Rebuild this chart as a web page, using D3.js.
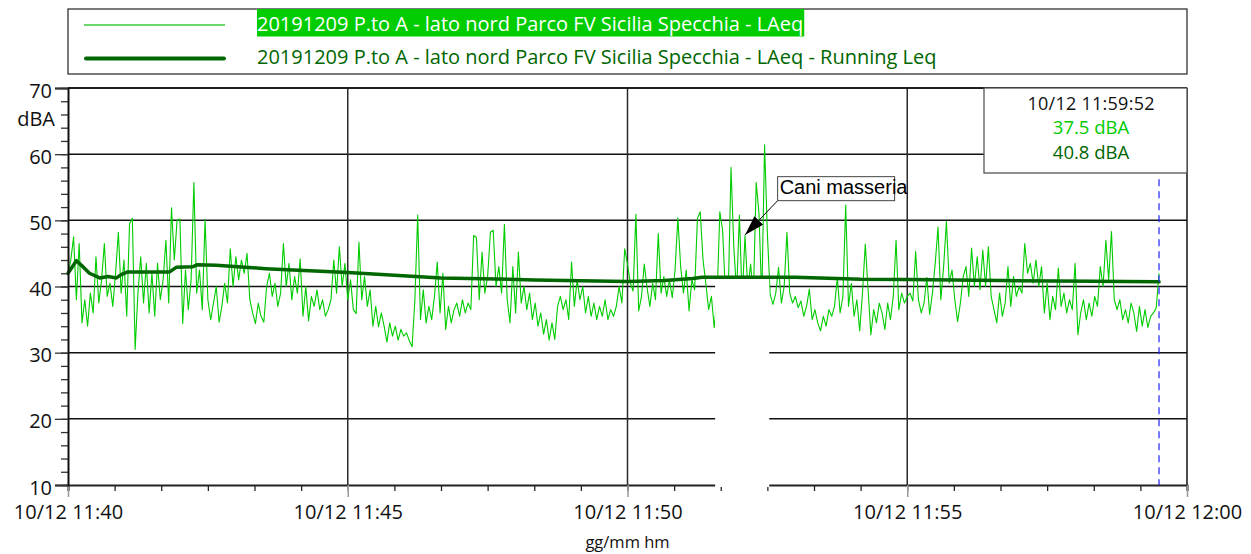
<!DOCTYPE html>
<html>
<head>
<meta charset="utf-8">
<script src="https://cdn.jsdelivr.net/npm/d3@7"></script>
<style>
  body { margin: 0; background: #fff; }
  text { font-family: "Open Sans", sans-serif; }
</style>
</head>
<body>
<div id="chart"></div>
<script>
// Data
var startTime = new Date(2019, 11, 10, 11, 40, 0);
var endTime = new Date(2019, 11, 10, 12, 0, 0);
var sampleStep = 3; // seconds between LAeq samples

var laeq = [
  42, 44, 47.5, 38, 46.5, 34.5, 38, 34, 39, 36,
  44.5, 37.5, 41, 46.5, 38.5, 40.5, 37, 42, 48.2, 39,
  44, 35.5, 49.5, 50.3, 30.5, 39, 44.5, 37.5, 43.5, 36,
  42, 35.5, 43.5, 38, 41, 47, 37.5, 51.9, 44, 50,
  50.2, 34.4, 42.5, 36.5, 41, 55.7, 39, 42.5, 36.5, 50.1,
  38, 35, 37.5, 40, 34.6, 37, 40.5, 37.5, 45.7, 40,
  44.5, 41, 44, 42, 45, 38, 36, 34.4, 37.5, 35.5,
  34.6, 40, 42, 38.5, 40.5, 37, 39, 46.5, 40, 43.5,
  38, 41.5, 39, 44.2, 35.5, 40, 34.8, 38.5, 37, 39.5,
  36.5, 38, 35.5, 36.5, 38, 44, 39, 46, 40, 43.5,
  38, 41, 36.5, 35.9, 46.7, 38, 41.5, 37, 39.5, 34,
  37, 33.9, 36, 34, 31.6, 34.5, 32.5, 34, 31.9, 33.5,
  32.5, 33, 31.8, 30.9, 38, 50.8, 35, 39.5, 34.5, 37,
  35, 38.5, 43.7, 36, 42, 33.5, 37, 34.5, 36.5, 37.5,
  35.5, 38, 36, 37.5, 36.5, 47.7, 47.4, 38, 45.2, 39,
  41.5, 48.2, 48.5, 40, 43, 39, 49.4, 38, 34.5, 43,
  36, 45.2, 37.5, 40, 36.5, 39, 35, 37.5, 34, 36,
  32.8, 35, 31.9, 34.5, 32, 37, 38.5, 36.5, 38, 35,
  43.7, 37, 41, 38, 40, 36, 38.5, 35.5, 37.5, 35,
  37, 35.5, 38, 35, 36.5, 35.5, 37, 40, 37.5, 45.7,
  43.4, 40.5, 39.3, 50.9, 36.3, 38.5, 43.4, 39.8, 37, 40.5,
  38, 48, 39, 41.5, 38.5, 41, 38.3, 42.5, 50.4, 43,
  39, 42.5, 36.3, 41, 39.5, 50.3, 51.3, 44, 40.5, 36.5,
  38.5, 33.8, 38, 51.3, 48.5, 39, 38.5, 58, 46, 39,
  50.8, 38, 47.7, 39.5, 43.4, 38.5, 55.7, 51, 38, 61.4,
  48, 38.8, 37.3, 39, 42.9, 37.5, 40, 48.2, 39, 37.5,
  38.5, 36.8, 37.8, 35.5, 37, 39.6, 35, 36.5, 34.5, 33.3,
  35.5, 34, 36.5, 35.5, 37, 41.4, 36, 38.5, 52.3, 37,
  40.5, 35.5, 38, 33.3, 39, 46.4, 39.5, 32.7, 36.5, 34.5,
  37.5, 36, 33.5, 37.5, 35, 38.5, 47, 36.5, 39, 37.5,
  38.5, 39, 37.8, 45.3, 38, 36, 37.5, 41.4, 35.8, 39,
  43.5, 49, 38, 43, 49.8, 40.5, 42.5, 38, 34.7, 37.5,
  41.5, 43, 38.5, 45.8, 40, 44.5, 39.5, 45.5, 40, 46,
  38.5, 36.5, 34.5, 39, 35.5, 37.5, 43, 37, 41.5, 38.5,
  40, 39, 46.5, 42, 43.5, 40.5, 44, 40, 43, 36,
  40.5, 35, 38.5, 36.5, 42.8, 37, 39, 36, 38, 36.5,
  43.5, 32.7, 36, 38, 35, 37.5, 35.5, 38.5, 37, 43,
  40, 47, 41, 48.3, 38, 36.5, 38, 35, 36.5, 34.5,
  37.5, 36, 33.2, 37, 34, 36.5, 33.8, 35.5, 36, 36.8,
  42
];

// running Leq, read at these seconds after 11:40
var leqSeconds = [0, 9, 16, 23, 34, 43, 52, 57, 64, 109, 116, 134, 139, 159, 212, 300,
  400, 500, 600, 640, 670, 680, 780, 850, 900, 1000, 1100, 1170];
var leqValues = [42.0, 43.9, 43.0, 42.0, 41.3, 41.5, 41.3, 41.8, 42.2, 42.2, 42.9, 43.0, 43.3, 43.2, 42.7, 42.1,
  41.3, 41.0, 40.75, 40.9, 41.2, 41.4, 41.4, 41.1, 41.05, 40.9, 40.8, 40.7];

var seriesNames = [
  "20191209 P.to A - lato nord Parco FV Sicilia Specchia - LAeq",
  "20191209 P.to A - lato nord Parco FV Sicilia Specchia - LAeq - Running Leq"
];
var yTicks = [10, 20, 30, 40, 50, 60, 70];
var yMinorTicks = d3.range(10, 71, 2);

// cursor readout
var cursorSeconds = 1170;
var cursorLabel = "10/12 11:59:52";
var cursorTexts = ["37.5 dBA", "40.8 dBA"];

// masked (excluded) interval
var maskSeconds = [694, 752];
var maskTop = 41.3;

// annotation
var noteText = "Cani masseria";
var notePoint = {s: 726, v: 47.8};
var noteBox = {s: 761, v: 56.6};

var colLaeq = "#00cc00", colLeq = "#006600";

// set dimensions and margins
var margin = {top: 88, right: 64, bottom: 69, left: 68 },
  width = 1251 - margin.left - margin.right,
  height = 554 - margin.top - margin.bottom;

var svg = d3.select("#chart")
  .append("svg")
    .attr("width", 1251)
    .attr("height", 554);

var g = svg.append("g")
  .attr("transform", "translate(" + margin.left + "," + margin.top + ")");

function atSec(s) { return new Date(startTime.getTime() + s * 1000); }

var x = d3.scaleTime()
  .domain([startTime, endTime])
  .range([0, width]);
var y = d3.scaleLinear()
  .domain([10, 70])
  .range([height, 0]);

// Legend
var legend = svg.append("g");
legend.append("rect")
  .attr("x", margin.left).attr("y", 9)
  .attr("width", width).attr("height", 65)
  .attr("fill", "none").attr("stroke", "#333").attr("stroke-width", 1.3);
legend.append("line")
  .attr("x1", 84).attr("x2", 225).attr("y1", 25).attr("y2", 25)
  .attr("stroke", "#3ccc3c").attr("stroke-width", 1.5);
legend.append("line")
  .attr("x1", 86).attr("x2", 224).attr("y1", 58.5).attr("y2", 58.5)
  .attr("stroke", colLeq).attr("stroke-width", 4).attr("stroke-linecap", "round");
var bg = legend.append("rect")
  .attr("x", 257).attr("y", 9).attr("height", 27.5)
  .attr("fill", colLaeq);
var t1 = legend.append("text")
  .attr("x", 257).attr("y", 31)
  .style("font-size", "20px")
  .attr("fill", "#fff")
  .text(seriesNames[0]);
bg.attr("width", t1.node().getComputedTextLength() + 1);
legend.append("text")
  .attr("x", 257).attr("y", 64)
  .style("font-size", "20px")
  .attr("fill", colLeq)
  .text(seriesNames[1]);

// Grid
g.selectAll(".hgrid")
  .data(yTicks.slice(1))
  .enter().append("line")
    .attr("x1", 0).attr("x2", width)
    .attr("y1", function(d) { return y(d); })
    .attr("y2", function(d) { return y(d); })
    .attr("stroke", "#111").attr("stroke-width", 1.5);
var vgrid = [atSec(300), atSec(600), atSec(900)];
g.selectAll(".vgrid")
  .data(vgrid)
  .enter().append("line")
    .attr("x1", function(d) { return x(d); })
    .attr("x2", function(d) { return x(d); })
    .attr("y1", 0).attr("y2", height)
    .attr("stroke", "#2a2a2a").attr("stroke-width", 1.5);
g.append("line")
  .attr("x1", width).attr("x2", width).attr("y1", 0).attr("y2", height)
  .attr("stroke", "#111").attr("stroke-width", 1.5);

// LAeq line
g.append("path")
  .datum(laeq)
  .attr("fill", "none")
  .attr("stroke", colLaeq)
  .attr("stroke-width", 1.1)
  .attr("stroke-linejoin", "round")
  .attr("d", d3.line()
    .x(function(d, i) { return x(atSec(i * sampleStep)); })
    .y(function(d) { return y(d); })
  );

// X axis (minor ticks every 50 s, labels every 5 min)
var xAxisG = g.append("g")
  .attr("transform", "translate(0," + height + ")");
xAxisG.call(d3.axisBottom(x)
    .tickValues(d3.range(0, 1201, 50).map(atSec))
    .tickSize(6).tickFormat(""))
  .call(function(a) {
    a.select(".domain").attr("stroke", "#222").attr("stroke-width", 2);
    a.selectAll(".tick line").attr("stroke", "#222").attr("stroke-width", 1.3);
  });
g.append("g")
  .attr("transform", "translate(0," + height + ")")
  .call(d3.axisBottom(x)
    .tickValues(d3.range(0, 1201, 300).map(atSec))
    .tickSize(12).tickPadding(8)
    .tickFormat(d3.timeFormat("%d/%m %H:%M")))
  .call(function(a) {
    a.select(".domain").remove();
    a.selectAll(".tick line").attr("stroke", "#999").attr("stroke-width", 1.5);
    a.selectAll(".tick text")
      .style("font-family", "'Open Sans', sans-serif")
      .style("font-size", "20px").attr("fill", "#111");
  });

// masked interval
g.append("rect")
  .attr("x", x(atSec(maskSeconds[0])))
  .attr("width", x(atSec(maskSeconds[1])) - x(atSec(maskSeconds[0])))
  .attr("y", y(maskTop))
  .attr("height", height - y(maskTop) + 2)
  .attr("fill", "#fff");

// Running Leq line
g.append("path")
  .datum(leqSeconds)
  .attr("fill", "none")
  .attr("stroke", colLeq)
  .attr("stroke-width", 3.5)
  .attr("stroke-linejoin", "round")
  .attr("stroke-linecap", "round")
  .attr("d", d3.line()
    .x(function(d) { return x(atSec(d)); })
    .y(function(d, i) { return y(leqValues[i]); })
  );

// Y axis
g.append("g")
  .call(d3.axisLeft(y).tickValues(yMinorTicks).tickSize(7).tickFormat(""))
  .call(function(a) {
    a.select(".domain").remove();
    a.selectAll(".tick line").attr("stroke", "#333").attr("stroke-width", 1.3);
  });
g.append("g")
  .call(d3.axisLeft(y).tickValues(yTicks).tickSize(13).tickPadding(3))
  .call(function(a) {
    a.select(".domain").attr("stroke", "#111").attr("stroke-width", 2);
    a.selectAll(".tick line").attr("stroke", "#333").attr("stroke-width", 1.3);
    a.selectAll(".tick text")
      .attr("dy", "0.45em")
      .style("font-family", "'Open Sans', sans-serif")
      .style("font-size", "20px").attr("fill", "#111");
  });
g.append("line")
  .attr("x1", 0).attr("x2", width).attr("y1", 0).attr("y2", 0)
  .attr("stroke", "#111").attr("stroke-width", 1.5);

// Y axis label
g.append("text")
  .attr("x", -13)
  .attr("y", y(64.2))
  .attr("text-anchor", "end")
  .style("font-size", "20px")
  .attr("fill", "#111")
  .text("dBA");

// X axis label
g.append("text")
  .attr("x", width / 2)
  .attr("y", height + 63)
  .attr("text-anchor", "middle")
  .style("font-size", "16.5px")
  .attr("fill", "#111")
  .text("gg/mm hm");

// Cursor
g.append("line")
  .attr("x1", x(atSec(cursorSeconds))).attr("x2", x(atSec(cursorSeconds)))
  .attr("y1", y(56.2)).attr("y2", height)
  .attr("stroke", "#2222ff").attr("stroke-width", 1.2)
  .attr("stroke-dasharray", "7,5");

var box = g.append("g");
box.append("rect")
  .attr("x", 916).attr("y", 0)
  .attr("width", width - 916).attr("height", 85)
  .attr("fill", "#fff").attr("stroke", "#555").attr("stroke-width", 1.3);
box.append("text")
  .attr("x", 1023).attr("y", 22)
  .attr("text-anchor", "middle").style("font-size", "18px").attr("fill", "#111")
  .attr("textLength", 127).attr("lengthAdjust", "spacing")
  .text(cursorLabel);
box.append("text")
  .attr("x", 1023).attr("y", 46)
  .attr("text-anchor", "middle").style("font-size", "18.5px").attr("fill", colLaeq)
  .text(cursorTexts[0]);
box.append("text")
  .attr("x", 1023).attr("y", 71)
  .attr("text-anchor", "middle").style("font-size", "18.5px").attr("fill", colLeq)
  .text(cursorTexts[1]);

// Annotation
svg.append("defs").append("marker")
  .attr("id", "arrow")
  .attr("viewBox", "0 0 20 12")
  .attr("refX", 20).attr("refY", 6)
  .attr("markerWidth", 20).attr("markerHeight", 12)
  .attr("markerUnits", "userSpaceOnUse")
  .attr("orient", "auto")
  .append("path")
    .attr("d", "M0,0 L20,6 L0,12 z")
    .attr("fill", "#000");

var bx = x(atSec(noteBox.s)), by = y(noteBox.v);
g.append("line")
  .attr("x1", bx).attr("y1", by + 24)
  .attr("x2", x(atSec(notePoint.s))).attr("y2", y(notePoint.v))
  .attr("stroke", "#000").attr("stroke-width", 1)
  .attr("marker-end", "url(#arrow)");
g.append("rect")
  .attr("x", bx).attr("y", by)
  .attr("width", 117).attr("height", 24)
  .attr("fill", "#fff").attr("stroke", "#444").attr("stroke-width", 1);
g.append("text")
  .attr("x", bx + 2).attr("y", by + 17)
  .style("font-family", "'Liberation Sans', Arial, sans-serif")
  .style("font-size", "20px")
  .attr("fill", "#000")
  .text(noteText);
</script>
</body>
</html>
